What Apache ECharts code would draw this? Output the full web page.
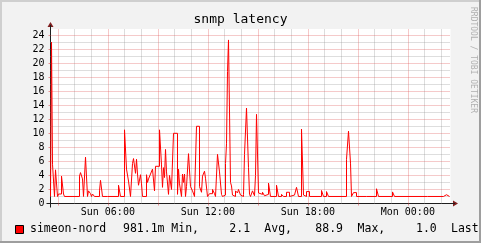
<!DOCTYPE html>
<html><head><meta charset="utf-8">
<script src="https://cdn.jsdelivr.net/npm/echarts@6/dist/echarts.min.js"></script>
<style>html,body{margin:0;padding:0;background:#f2f2f2}#c{width:481px;height:243px}</style>
</head><body><div id="c"></div>
<script>
// ---- data (hours since Sunday 00:00; each value is held from its time to the next) ----
const chartTitle = 'snmp latency';
const seriesName = 'simeon-nord';
const xStart = 2.56, xEnd = 26.56;
const yMax = 24.86;
const times = [2.56,2.62,2.68,2.80,2.86,2.98,3.04,3.22,3.34,3.40,4.30,4.36,4.48,4.54,4.66,4.78,4.84,4.96,5.02,5.08,5.20,5.50,5.56,5.68,5.98,6.04,6.64,6.76,6.82,6.88,7.00,7.12,7.24,7.36,7.48,7.54,7.66,7.72,7.78,7.84,7.96,8.02,8.08,8.32,8.38,8.44,8.56,8.68,8.80,8.86,9.10,9.22,9.28,9.34,9.40,9.46,9.52,9.64,9.70,9.82,9.94,10.18,10.24,10.30,10.42,10.48,10.54,10.60,10.66,10.72,10.84,10.96,11.08,11.20,11.32,11.50,11.62,11.68,11.80,11.86,11.98,12.10,12.28,12.40,12.46,12.58,12.70,12.82,12.88,13.00,13.06,13.12,13.18,13.24,13.36,13.42,13.48,13.54,13.66,13.78,13.84,13.96,14.08,14.14,14.20,14.32,14.44,14.50,14.56,14.68,14.80,14.86,14.92,15.04,15.10,15.16,15.28,15.40,15.46,15.64,15.76,16.12,16.24,16.42,16.54,16.72,16.90,17.02,17.20,17.32,17.44,17.62,17.74,17.80,17.92,18.10,18.82,18.94,19.12,19.24,20.32,20.44,20.56,20.62,20.74,20.92,21.52,21.64,22.12,22.24,23.08,23.20,25.18,25.30,26.14,26.32,26.50];
const values = [1.0,23.0,5.6,1.0,4.8,1.0,1.35,3.9,1.35,1.0,3.9,4.4,3.5,1.0,6.6,1.0,1.8,1.4,1.0,1.35,1.0,1.8,3.3,1.0,1.2,1.0,2.6,1.0,1.2,1.0,10.5,4.9,3.2,1.0,5.7,6.4,4.3,6.3,4.2,2.6,4.1,2.8,1.0,4.1,3.0,3.5,4.2,4.9,1.8,5.3,10.5,5.5,2.3,5.1,3.7,7.7,4.5,1.3,4.0,2.0,10.0,1.3,4.9,2.8,1.0,4.2,3.0,4.2,1.0,2.4,7.1,2.4,1.8,1.0,11.0,2.4,1.6,3.9,4.6,3.6,1.0,1.4,2.0,1.4,1.0,7.0,4.5,1.3,1.0,1.2,5.7,8.5,18.8,23.3,3.0,2.5,1.2,1.0,1.8,1.5,2.0,1.2,1.0,1.3,7.0,13.6,5.1,1.3,1.0,1.8,1.1,4.0,12.7,1.5,1.4,1.3,1.6,1.1,1.3,2.9,1.0,2.6,1.0,1.3,1.0,1.6,1.0,1.2,1.0,2.3,1.0,10.6,1.2,1.0,1.7,1.0,1.85,1.0,1.7,1.0,6.3,10.3,5.75,1.0,1.55,1.0,1.2,1.0,2.1,1.0,1.65,1.0,1.25,1.0,1.25,1.0,1.0];
const yTickValues = [0,2,4,6,8,10,12,14,16,18,20,22,24];
const yMinorValues = [1,3,5,7,9,11,13,15,17,19,21,23];
const xLabelHours = [6,12,18,24];
const xLabelTexts = ['Sun 06:00','Sun 12:00','Sun 18:00','Mon 00:00'];
const xMajorHours = [3,6,9,12,15,18,21,24];
const xMinorHours = [4,5,7,8,10,11,13,14,16,17,19,20,22,23,25,26];
const legendStats = [['981.1m','Min,'],['2.1','Avg,'],['88.9','Max,'],['1.0','Last']];
const watermark = 'RRDTOOL / TOBI OETIKER';

// ---- styles ----
const MONO = 'DejaVu Sans Mono';
const GRID_C = 'rgba(143,143,143,0.6)';
const MGRID_C = 'rgba(222,79,79,0.6)';
const AXIS_C = '#1f1f1f';
const ARROW_C = '#801f1f';

const gridLines = [];
xMinorHours.forEach(h => gridLines.push({xAxis: h, lineStyle: {color: GRID_C, type: [1,1], width: 1}}));
xMajorHours.forEach(h => gridLines.push({xAxis: h, lineStyle: {color: MGRID_C, type: [1,1], width: 1}}));
yMinorValues.forEach(v => gridLines.push({yAxis: v, lineStyle: {color: GRID_C, type: [1,1], width: 1}}));
yTickValues.filter(v => v > 0).forEach(v => gridLines.push({yAxis: v, lineStyle: {color: MGRID_C, type: [1,1], width: 1}}));

const chart = echarts.init(document.getElementById('c'), null, {renderer: 'canvas', width: 481, height: 243});
chart.setOption({
  animation: false,
  backgroundColor: '#f2f2f2',
  grid: {left: 50.5, right: 30.5, top: 29, bottom: 39.5, show: true, backgroundColor: '#ffffff', borderWidth: 0},
  xAxis: {
    type: 'value', min: xStart, max: xEnd,
    axisLine: {show: false}, splitLine: {show: false},
    axisTick: {show: true, customValues: xMajorHours, length: 2, lineStyle: {color: MGRID_C, width: 1}},
    axisLabel: {customValues: xLabelHours, margin: 4, color: '#000', fontFamily: MONO, fontSize: 10,
      formatter: v => { const i = xLabelHours.indexOf(Math.round(v)); return i >= 0 ? xLabelTexts[i] : ''; }}
  },
  yAxis: {
    type: 'value', min: 0, max: yMax,
    axisLine: {show: false}, splitLine: {show: false},
    axisTick: {show: true, customValues: yTickValues, length: 2, lineStyle: {color: MGRID_C, width: 1}},
    axisLabel: {customValues: yTickValues, margin: 6, color: '#000', fontFamily: MONO, fontSize: 10}
  },
  series: [{
    type: 'line', name: seriesName, step: 'end', showSymbol: false, z: 5,
    lineStyle: {color: '#ff0000', width: 1},
    data: times.map((t, i) => [t, values[i]]),
    markLine: {silent: true, symbol: ['none', 'none'], label: {show: false}, animation: false, data: gridLines}
  }]
});

const o = chart.convertToPixel({xAxisIndex: 0, yAxisIndex: 0}, [xStart, 0]);
const e = chart.convertToPixel({xAxisIndex: 0, yAxisIndex: 0}, [xEnd, yMax]);
const X0 = Math.floor(o[0]) + 0.5, Y0 = Math.floor(o[1]) + 0.5, X1 = Math.round(e[0]), Y1 = Math.round(e[1]);

const legendX = [123, 171.3, 229.3, 264.3, 315.3, 357.6, 416, 451];
const graphics = [
  {type: 'rect', shape: {x: 0, y: 0, width: 481, height: 2}, style: {fill: '#cfcfcf'}, silent: true},
  {type: 'rect', shape: {x: 0, y: 0, width: 2, height: 243}, style: {fill: '#cfcfcf'}, silent: true},
  {type: 'rect', shape: {x: 0, y: 241, width: 481, height: 2}, style: {fill: '#9e9e9e'}, silent: true},
  {type: 'rect', shape: {x: 479, y: 0, width: 2, height: 243}, style: {fill: '#9e9e9e'}, silent: true},
  {type: 'line', z: 1, shape: {x1: X0 - 4, y1: Y0, x2: X1 + 4, y2: Y0}, style: {stroke: AXIS_C, lineWidth: 1}},
  {type: 'line', z: 1, shape: {x1: X0, y1: Y0 + 4, x2: X0, y2: Y1 - 4}, style: {stroke: AXIS_C, lineWidth: 1}},
  {type: 'polygon', shape: {points: [[X1 + 2, Y0 - 3], [X1 + 2, Y0 + 3], [X1 + 7, Y0]]}, style: {fill: ARROW_C}},
  {type: 'polygon', shape: {points: [[X0 - 3, Y1 - 2], [X0 + 3, Y1 - 2], [X0, Y1 - 7]]}, style: {fill: ARROW_C}},
  {type: 'text', x: 240.5, y: 19.5, style: {text: chartTitle, font: '13px ' + MONO, fill: '#000', align: 'center', verticalAlign: 'middle'}},
  {type: 'text', x: 473.5, y: 60, rotation: -Math.PI / 2, style: {text: watermark, font: '8px ' + MONO, fill: '#b0b0b0', align: 'center', verticalAlign: 'middle'}},
  {type: 'rect', shape: {x: 15.5, y: 225.5, width: 8, height: 8}, style: {fill: '#ff0000', stroke: '#000', lineWidth: 1}},
  {type: 'text', x: 30, y: 229.5, style: {text: seriesName, font: '11.5px ' + MONO, fill: '#000', align: 'left', verticalAlign: 'middle'}}
];
legendStats.forEach((s, i) => {
  graphics.push({type: 'text', x: legendX[2 * i], y: 229.5, style: {text: s[0], font: '11.5px ' + MONO, fill: '#000', align: 'left', verticalAlign: 'middle'}});
  graphics.push({type: 'text', x: legendX[2 * i + 1], y: 229.5, style: {text: s[1], font: '11.5px ' + MONO, fill: '#000', align: 'left', verticalAlign: 'middle'}});
});
chart.setOption({graphic: graphics});
</script></body></html>
